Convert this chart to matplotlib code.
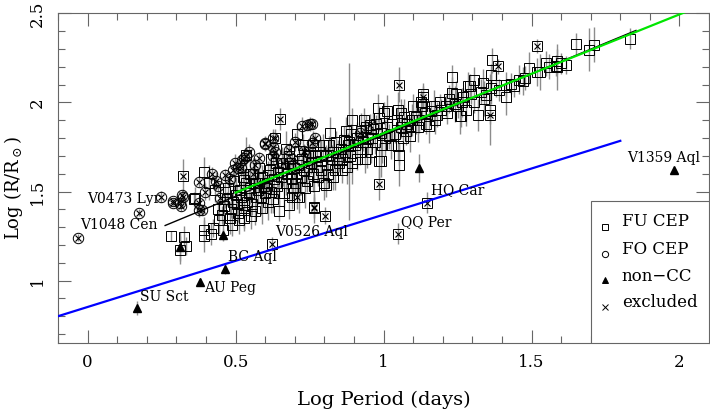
import matplotlib
matplotlib.use('Agg')
import matplotlib.pyplot as plt
from matplotlib.ticker import MultipleLocator, FuncFormatter
from matplotlib.patches import Rectangle

plt.rcParams['font.family'] = ['DejaVu Serif']
plt.rcParams['mathtext.fontset'] = 'dejavuserif'

# fundamental-mode cepheids: (log P, log R, error)
fu = [
    (0.283, 1.251, 0.03), (0.325, 1.247, 0.06), (0.331, 1.195, 0.05), (0.311, 1.173, 0.08),
    (0.361, 1.457, 0.04), (0.364, 1.463, 0.06), (0.393, 1.612, 0.08), (0.395, 1.285, 0.07),
    (0.418, 1.262, 0.06), (0.395, 1.251, 0.09), (0.423, 1.294, 0.05), (0.431, 1.510, 0.07),
    (0.410, 1.550, 0.10), (0.440, 1.400, 0.06), (0.445, 1.340, 0.08),
    (0.457, 1.285, 0.06), (0.480, 1.350, 0.09), (0.485, 1.401, 0.05), (0.460, 1.420, 0.07),
    (0.470, 1.460, 0.04), (0.490, 1.440, 0.08), (0.475, 1.520, 0.06), (0.500, 1.480, 0.10),
    (0.455, 1.370, 0.05), (0.495, 1.560, 0.07), (0.465, 1.500, 0.09), (0.488, 1.310, 0.06),
    (0.511, 1.341, 0.08), (0.508, 1.379, 0.05), (0.530, 1.397, 0.10), (0.530, 1.425, 0.06),
    (0.530, 1.350, 0.07), (0.520, 1.470, 0.09), (0.515, 1.510, 0.05), (0.535, 1.550, 0.08),
    (0.545, 1.490, 0.06), (0.505, 1.430, 0.11), (0.525, 1.580, 0.07), (0.540, 1.440, 0.05),
    (0.550, 1.520, 0.09), (0.530, 1.566, 0.06), (0.548, 1.600, 0.08), (0.536, 1.706, 0.10),
    (0.564, 1.547, 0.07), (0.570, 1.472, 0.12), (0.555, 1.430, 0.06), (0.575, 1.510, 0.08),
    (0.580, 1.550, 0.05), (0.560, 1.600, 0.09), (0.590, 1.580, 0.07), (0.585, 1.470, 0.10),
    (0.595, 1.530, 0.06), (0.565, 1.390, 0.08), (0.578, 1.630, 0.05), (0.598, 1.490, 0.11),
    (0.552, 1.360, 0.07), (0.590, 1.410, 0.09),
    (0.605, 1.550, 0.06), (0.610, 1.590, 0.08), (0.620, 1.500, 0.12), (0.615, 1.620, 0.05),
    (0.630, 1.570, 0.09), (0.640, 1.530, 0.07), (0.645, 1.610, 0.10), (0.646, 1.393, 0.06),
    (0.625, 1.460, 0.08), (0.635, 1.660, 0.05), (0.610, 1.440, 0.10), (0.648, 1.490, 0.07),
    (0.620, 1.680, 0.09), (0.603, 1.520, 0.06),
    (0.680, 1.425, 0.08), (0.655, 1.580, 0.06), (0.660, 1.630, 0.10), (0.670, 1.550, 0.07),
    (0.675, 1.600, 0.09), (0.685, 1.660, 0.05), (0.690, 1.570, 0.11), (0.695, 1.520, 0.06),
    (0.665, 1.490, 0.08), (0.680, 1.700, 0.07), (0.658, 1.660, 0.09), (0.698, 1.630, 0.05),
    (0.672, 1.740, 0.10), (0.690, 1.470, 0.07),
    (0.716, 1.468, 0.09), (0.707, 1.822, 0.06), (0.705, 1.600, 0.08), (0.710, 1.650, 0.05),
    (0.720, 1.580, 0.10), (0.725, 1.680, 0.07), (0.730, 1.620, 0.09), (0.740, 1.560, 0.06),
    (0.745, 1.700, 0.08), (0.735, 1.520, 0.11), (0.715, 1.730, 0.05), (0.748, 1.640, 0.09),
    (0.700, 1.550, 0.07), (0.728, 1.760, 0.06),
    (0.761, 1.762, 0.08), (0.755, 1.660, 0.06), (0.760, 1.600, 0.10), (0.770, 1.700, 0.07),
    (0.775, 1.640, 0.09), (0.780, 1.580, 0.05), (0.785, 1.720, 0.08), (0.790, 1.670, 0.12),
    (0.795, 1.760, 0.06), (0.765, 1.530, 0.09), (0.788, 1.620, 0.07), (0.752, 1.720, 0.05),
    (0.798, 1.550, 0.10),
    (0.806, 1.538, 0.07), (0.820, 1.828, 0.09), (0.805, 1.700, 0.06), (0.810, 1.650, 0.10),
    (0.815, 1.760, 0.05), (0.825, 1.680, 0.08), (0.830, 1.720, 0.07), (0.835, 1.620, 0.11),
    (0.840, 1.780, 0.06), (0.845, 1.700, 0.09), (0.828, 1.580, 0.07), (0.848, 1.660, 0.05),
    (0.812, 1.600, 0.08),
    (0.894, 1.899, 0.07), (0.855, 1.740, 0.09), (0.860, 1.680, 0.06), (0.865, 1.790, 0.08),
    (0.870, 1.720, 0.05), (0.875, 1.640, 0.10), (0.880, 1.760, 0.07), (0.885, 1.700, 0.09),
    (0.890, 1.820, 0.06), (0.895, 1.660, 0.12), (0.883, 1.780, 0.44), (0.858, 1.620, 0.07),
    (0.872, 1.840, 0.08),
    (0.905, 1.760, 0.06), (0.910, 1.800, 0.09), (0.920, 1.720, 0.07), (0.925, 1.840, 0.10),
    (0.930, 1.780, 0.05), (0.936, 1.682, 0.08), (0.940, 1.860, 0.07), (0.945, 1.740, 0.11),
    (0.912, 1.680, 0.06), (0.948, 1.800, 0.09), (0.935, 1.900, 0.07),
    (0.981, 1.969, 0.08), (0.986, 1.674, 0.10), (0.960, 1.800, 0.06), (0.965, 1.850, 0.09),
    (0.970, 1.780, 0.07), (0.975, 1.880, 0.05), (0.990, 1.830, 0.08), (0.995, 1.760, 0.10),
    (0.958, 1.720, 0.06), (0.992, 1.669, 0.09), (0.985, 1.910, 0.07),
    (1.000, 1.940, 0.06), (1.011, 1.950, 0.09), (1.020, 1.809, 0.07), (1.048, 1.959, 0.10),
    (1.048, 1.757, 0.08), (1.052, 1.706, 0.06), (1.052, 1.650, 0.12), (1.010, 1.860, 0.07),
    (1.030, 1.880, 0.09), (1.040, 1.820, 0.05), (1.025, 1.760, 0.08), (1.045, 1.900, 0.07),
    (1.005, 1.800, 0.10),
    (1.088, 1.809, 0.09), (1.101, 1.978, 0.07), (1.060, 1.860, 0.06), (1.070, 1.920, 0.10),
    (1.075, 1.840, 0.08), (1.080, 1.880, 0.05), (1.095, 1.900, 0.09), (1.065, 1.800, 0.07),
    (1.090, 1.860, 0.06), (1.058, 1.940, 0.08),
    (1.129, 1.978, 0.08), (1.133, 2.047, 0.06), (1.110, 1.920, 0.10), (1.120, 1.900, 0.07),
    (1.140, 1.940, 0.09), (1.145, 1.880, 0.06), (1.115, 1.860, 0.08), (1.125, 2.000, 0.07),
    (1.160, 1.950, 0.06), (1.170, 1.980, 0.09), (1.180, 1.930, 0.07), (1.190, 2.000, 0.05),
    (1.175, 1.900, 0.08), (1.155, 1.870, 0.10), (1.195, 1.960, 0.06),
    (1.232, 2.140, 0.07), (1.232, 2.053, 0.09), (1.210, 1.980, 0.06), (1.220, 2.020, 0.08),
    (1.240, 1.990, 0.10), (1.245, 2.050, 0.07), (1.215, 1.940, 0.06),
    (1.285, 2.090, 0.08), (1.257, 1.925, 0.10), (1.251, 1.981, 0.07), (1.262, 1.921, 0.06),
    (1.279, 1.959, 0.09), (1.291, 2.090, 0.07), (1.270, 2.030, 0.05), (1.265, 2.000, 0.08),
    (1.295, 2.050, 0.06),
    (1.307, 2.128, 0.07), (1.336, 2.109, 0.08), (1.338, 2.021, 0.10), (1.307, 2.000, 0.06),
    (1.319, 1.931, 0.09), (1.330, 2.060, 0.07), (1.345, 2.040, 0.05),
    (1.367, 2.236, 0.07), (1.364, 2.156, 0.06), (1.364, 2.081, 0.09), (1.361, 1.959, 0.20),
    (1.380, 2.100, 0.07), (1.390, 2.070, 0.06),
    (1.414, 2.030, 0.10), (1.414, 2.100, 0.07), (1.431, 2.105, 0.06), (1.457, 2.128, 0.08),
    (1.479, 2.137, 0.07), (1.491, 2.193, 0.09), (1.440, 2.090, 0.06), (1.470, 2.120, 0.08),
    (1.530, 2.169, 0.10), (1.550, 2.221, 0.07), (1.583, 2.206, 0.06), (1.585, 2.230, 0.07),
    (1.585, 2.199, 0.13), (1.615, 2.208, 0.05), (1.651, 2.328, 0.06), (1.693, 2.296, 0.12),
    (1.711, 2.324, 0.10), (1.834, 2.358, 0.06), (1.520, 2.170, 0.08), (1.560, 2.200, 0.07),
    (1.600, 2.220, 0.06),
]

# excluded fundamental-mode stars
fu_excl = [
    (0.324, 1.585, 0.10), (0.649, 1.907, 0.06), (0.634, 1.803, 0.05), (0.707, 1.470, 0.07),
    (0.764, 1.406, 0.08), (0.623, 1.206, 0.04), (0.765, 1.412, 0.06), (0.801, 1.365, 0.05),
    (0.955, 1.875, 0.06), (0.983, 1.543, 0.09), (1.052, 2.100, 0.10), (1.133, 2.030, 0.06),
    (1.148, 1.438, 0.06), (1.049, 1.264, 0.06), (1.386, 2.202, 0.04), (1.361, 1.931, 0.05),
    (1.519, 2.315, 0.04),
]

# first-overtone cepheids
fo = [
    (-0.034, 1.240, 0.02), (0.172, 1.380, 0.02), (0.249, 1.472, 0.03), (0.288, 1.444, 0.02),
    (0.314, 1.420, 0.03), (0.322, 1.472, 0.04), (0.318, 1.480, 0.03), (0.288, 1.436, 0.02),
    (0.311, 1.436, 0.03), (0.378, 1.397, 0.04), (0.378, 1.556, 0.03), (0.397, 1.500, 0.05),
    (0.378, 1.435, 0.04), (0.386, 1.397, 0.03), (0.420, 1.598, 0.04), (0.435, 1.560, 0.05),
    (0.463, 1.594, 0.03), (0.446, 1.463, 0.04), (0.497, 1.660, 0.05), (0.491, 1.622, 0.03),
    (0.508, 1.631, 0.04), (0.530, 1.688, 0.03), (0.547, 1.719, 0.05), (0.534, 1.700, 0.04),
    (0.523, 1.678, 0.03), (0.564, 1.650, 0.04), (0.519, 1.631, 0.05), (0.601, 1.772, 0.04),
    (0.626, 1.749, 0.03), (0.634, 1.719, 0.05), (0.628, 1.697, 0.04), (0.682, 1.734, 0.03),
    (0.731, 1.725, 0.04), (0.724, 1.869, 0.05), (0.740, 1.875, 0.03), (0.753, 1.879, 0.04),
    (0.759, 1.880, 0.03), (0.919, 1.828, 0.04), (0.598, 1.767, 0.04), (0.628, 1.800, 0.05),
    (0.580, 1.690, 0.03), (0.757, 1.773, 0.04), (0.700, 1.780, 0.05), (0.770, 1.800, 0.03),
    (0.480, 1.570, 0.04), (0.440, 1.530, 0.03), (0.560, 1.600, 0.04), (0.660, 1.660, 0.05),
    (0.690, 1.680, 0.04),
]

# non-classical pulsators
noncc = [
    (0.166, 0.847, 0.04), (0.380, 0.995, 0.02), (0.463, 1.066, 0.03), (0.456, 1.257, 0.03),
    (0.311, 1.190, 0.08), (1.120, 1.631, 0.08), (1.981, 1.618, 0.02),
]

star_names = ['V0473 Lyr', 'V1048 Cen', 'V0526 Aql', 'QQ Per', 'HQ Car',
              'V1359 Aql', 'SU Sct', 'AU Peg', 'BC Aql']
name_x = [-0.003, -0.024, 0.635, 1.060, 1.159, 1.824, 0.176, 0.392, 0.476]
name_y = [1.459, 1.313, 1.274, 1.331, 1.510, 1.689, 0.908, 0.959, 1.133]

# linear relations: (intercept, slope, x start, x end)
fit_all = (1.129, 0.688, 0.262, 1.853)
fit_green = (1.160, 0.667, 0.500, 2.100)
fit_blue = (0.852, 0.518, -0.100, 1.800)


def cols(rows):
    return [r[0] for r in rows], [r[1] for r in rows], [r[2] for r in rows]


fig = plt.figure(figsize=(7.1, 4.11), dpi=100)
ax = fig.add_axes([0.0817, 0.1655, 0.917, 0.8021])

grey = '0.55'
for rows in (fu, fu_excl, fo, noncc):
    x, y, e = cols(rows)
    ax.errorbar(x, y, yerr=e, fmt='none', ecolor=grey, elinewidth=1, capsize=0, zorder=1)

x, y, e = cols(fu)
ax.plot(x, y, 's', ms=7, mfc='none', mec='k', mew=0.7, zorder=2)
x, y, e = cols(fu_excl)
ax.plot(x, y, 's', ms=7, mfc='none', mec='k', mew=0.7, zorder=2)
ax.plot(x, y, 'x', ms=4, mec='k', mew=0.8, zorder=2)
x, y, e = cols(fo)
ax.plot(x, y, 'o', ms=7.5, mfc='none', mec='k', mew=0.7, zorder=2)
ax.plot(x, y, 'x', ms=4, mec='k', mew=0.8, zorder=2)
x, y, e = cols(noncc)
ax.plot(x, y, '^', ms=6, mfc='k', mec='k', zorder=3)

for (a, b, x0, x1), col, lw, z in [(fit_all, 'k', 1.0, 4), (fit_green, '#00e600', 1.6, 5),
                                   (fit_blue, '#0000ff', 1.6, 5)]:
    ax.plot([x0, x1], [a + b * x0, a + b * x1], color=col, lw=lw, zorder=z)

for name, tx, ty in zip(star_names, name_x, name_y):
    ax.text(tx, ty, name, fontsize=10, ha='left', va='center', zorder=6)

ax.set_xlim(-0.1, 2.1)
ax.set_ylim(0.65, 2.5)
ax.xaxis.set_major_locator(MultipleLocator(0.5))
ax.xaxis.set_minor_locator(MultipleLocator(0.1))
ax.yaxis.set_major_locator(MultipleLocator(0.5))
ax.yaxis.set_minor_locator(MultipleLocator(0.1))
fmt = FuncFormatter(lambda v, p: f'{v:g}')
ax.xaxis.set_major_formatter(fmt)
ax.yaxis.set_major_formatter(fmt)
ax.tick_params(which='both', direction='in', top=True, right=True, color='0.4', width=0.8,
               labelsize=12)
ax.tick_params(which='major', length=9.5)
ax.tick_params(which='minor', length=5)
ax.tick_params(axis='x', pad=8)
ax.tick_params(axis='y', pad=9, labelrotation=90)
plt.setp(ax.get_yticklabels(), va='center')
for s in ax.spines.values():
    s.set_color('0.4')
    s.set_linewidth(0.8)

ax.set_xlabel('Log Period (days)', fontsize=14, labelpad=14)
ax.set_ylabel(r'Log (R/R$_\odot$)', fontsize=13)
ax.yaxis.set_label_coords(-0.050, 0.47)

# legend box
ax.add_patch(Rectangle((0.819, 0.0), 0.181, 0.432, transform=ax.transAxes, fc='white',
                       ec='0.4', lw=0.8, zorder=7))
leg_labels = ['FU CEP', 'FO CEP', 'non\u2212CC', 'excluded']
leg_markers = ['s', 'o', '^', 'x']
leg_my = [0.353, 0.270, 0.191, 0.109]
leg_ty = [0.368, 0.285, 0.201, 0.122]
for lab, m, my, ty in zip(leg_labels, leg_markers, leg_my, leg_ty):
    filled = m == '^'
    ax.plot([0.840], [my], m, ms=4.5, mfc='k' if filled else 'none', mec='k', mew=0.7,
            transform=ax.transAxes, zorder=8, clip_on=False)
    ax.text(0.866, ty, lab, fontsize=12, ha='left', va='center', transform=ax.transAxes,
            zorder=8)

fig.savefig('out.png', dpi=100)
